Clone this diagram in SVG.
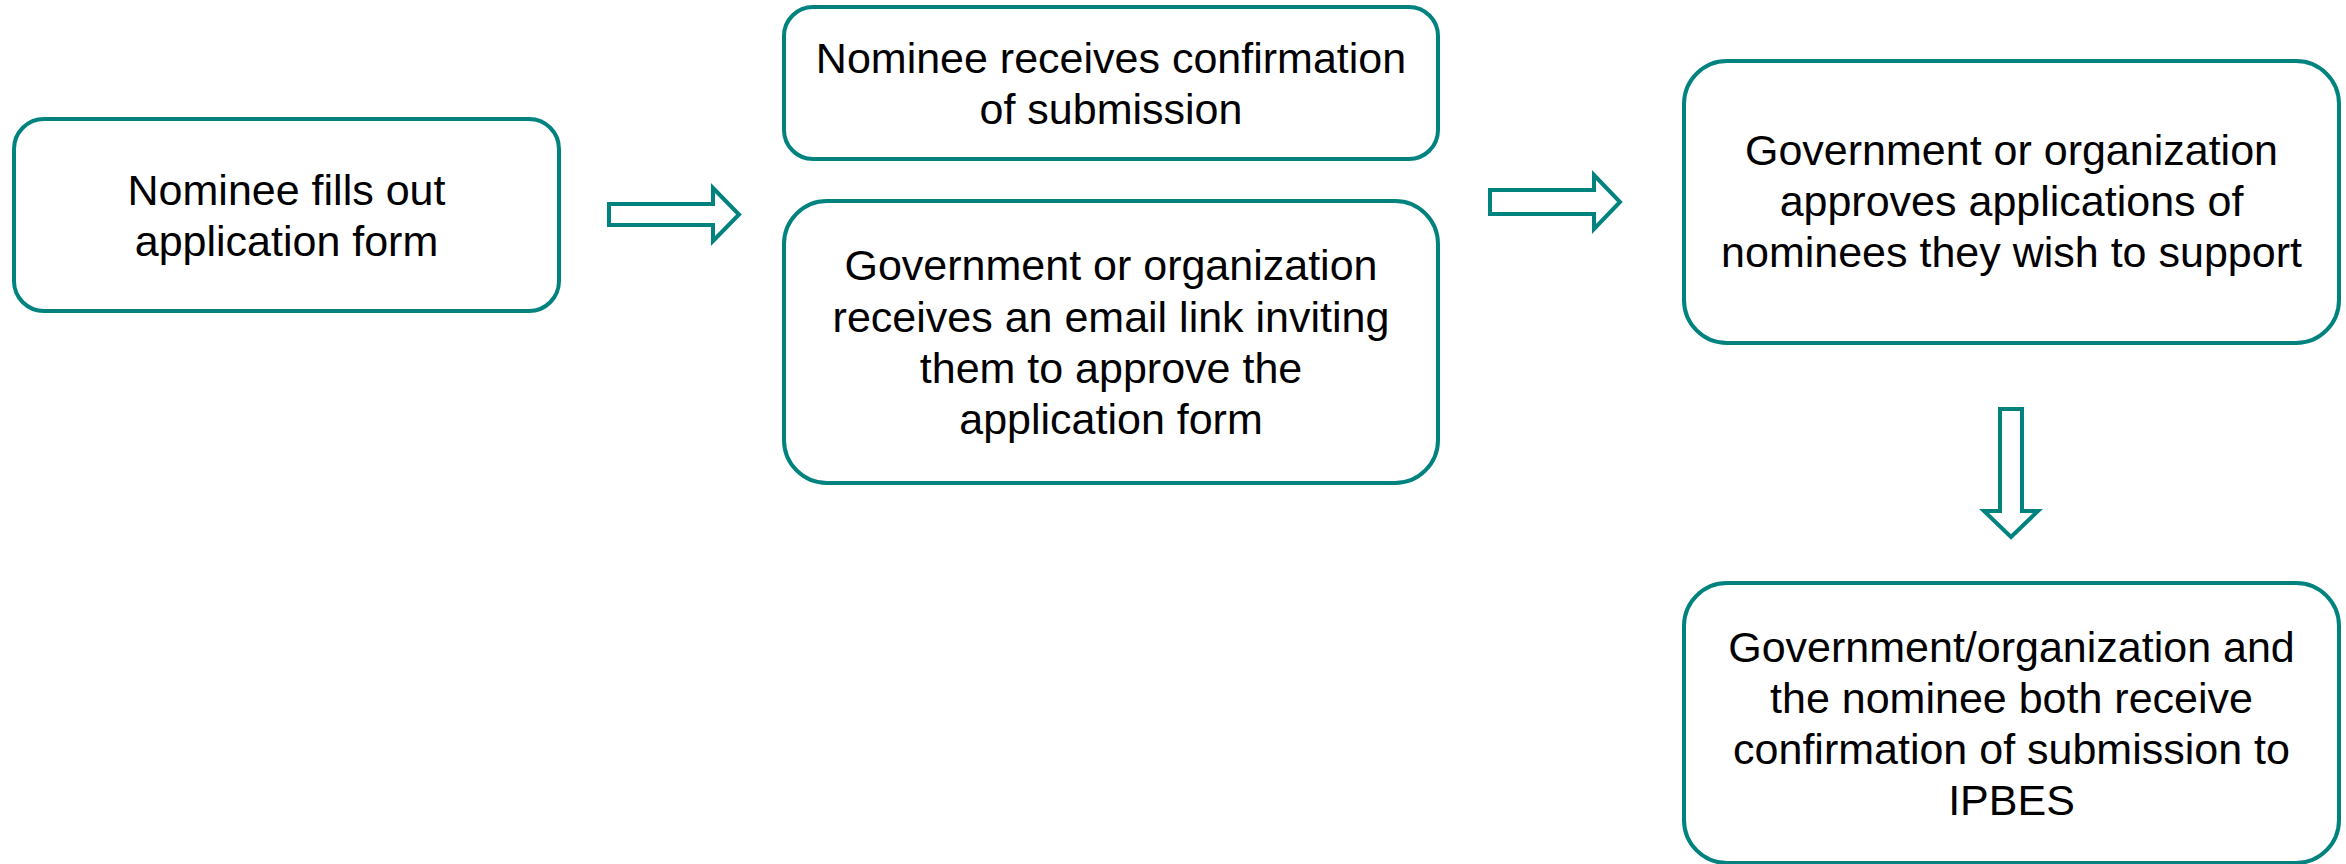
<svg xmlns="http://www.w3.org/2000/svg" width="2346" height="864" viewBox="0 0 2346 864">
<style>
.box{fill:#ffffff;stroke:#00837f;stroke-width:4}
.arr{fill:#ffffff;stroke:#00837f;stroke-width:4;stroke-linejoin:miter}
text{font-family:"Liberation Sans",Arial,Helvetica,sans-serif;font-size:43px;fill:#000000;text-anchor:middle}
</style>
<rect width="2346" height="864" fill="#ffffff"/>
<g id="connectors">
<path class="arr" d="M609,204 H713 V188 L739,214.5 L713,241 V225 H609 Z"/>
<path class="arr" d="M1490,190 H1594 V175 L1620,202 L1594,229 V214 H1490 Z"/>
<path class="arr" d="M2000,409 H2022 V511 H2038 L2011,537 L1984,511 H2000 Z"/>
</g>
<g id="node1">
<rect class="box" x="14" y="119" width="545" height="192" rx="30" ry="30"/>
<text x="286.5" y="205">Nominee fills out</text>
<text x="286.5" y="256">application form</text>
</g>
<g id="node2">
<rect class="box" x="784" y="7" width="654" height="152" rx="29" ry="29"/>
<text x="1111" y="73">Nominee receives confirmation</text>
<text x="1111" y="124">of submission</text>
</g>
<g id="node3">
<rect class="box" x="784" y="201" width="654" height="282" rx="43" ry="43"/>
<text x="1111" y="280">Government or organization</text>
<text x="1111" y="332">receives an email link inviting</text>
<text x="1111" y="383">them to approve the</text>
<text x="1111" y="434">application form</text>
</g>
<g id="node4">
<rect class="box" x="1684" y="61" width="655" height="282" rx="43" ry="43"/>
<text x="2011.5" y="165">Government or organization</text>
<text x="2011.5" y="216">approves applications of</text>
<text x="2011.5" y="267">nominees they wish to support</text>
</g>
<g id="node5">
<rect class="box" x="1684" y="583" width="655" height="280" rx="43" ry="43"/>
<text x="2011.5" y="662">Government/organization and</text>
<text x="2011.5" y="713">the nominee both receive</text>
<text x="2011.5" y="764">confirmation of submission to</text>
<text x="2011.5" y="815">IPBES</text>
</g>
</svg>
